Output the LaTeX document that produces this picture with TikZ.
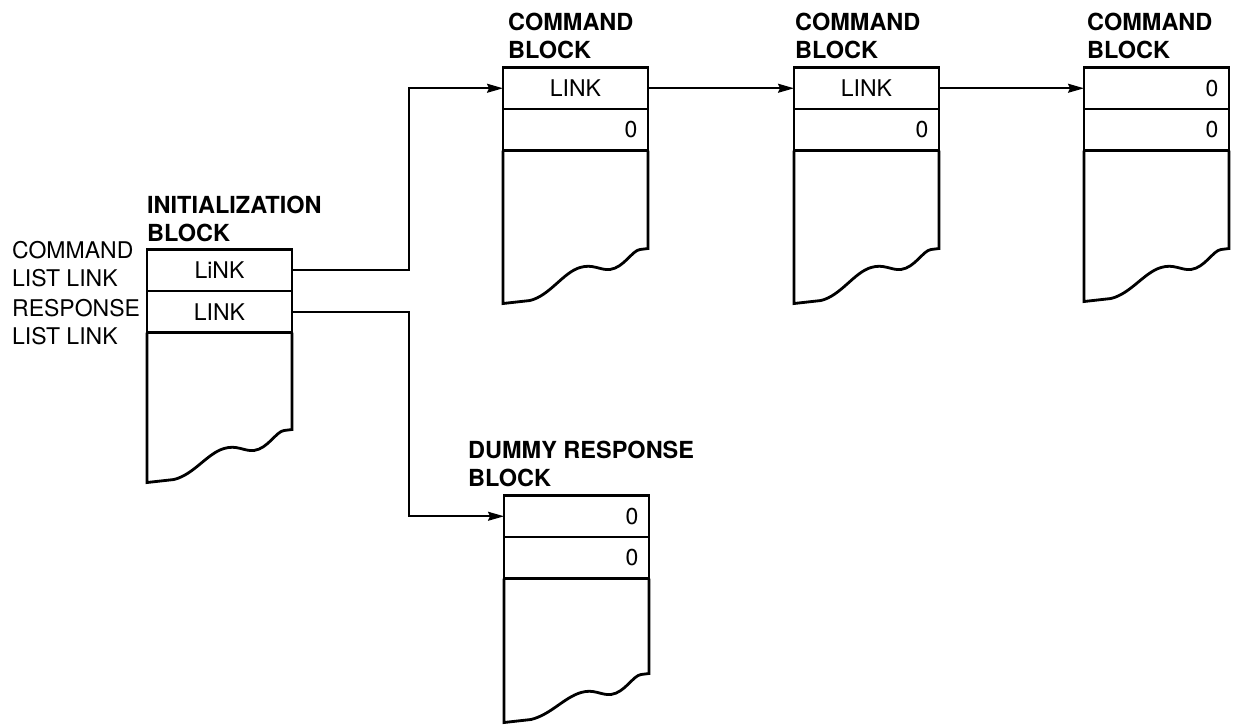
\documentclass[tikz,border=0pt]{standalone}
\usepackage{fontspec}
\setmainfont{TeX Gyre Heros}
\usetikzlibrary{arrows.meta}
\tikzset{
  blk/.style={line width=2.8pt, line join=miter},
  cell/.style={draw, line width=2.8pt, anchor=north west, minimum height=41.5pt,
    text width=124pt, inner xsep=10.5pt, inner ysep=0pt, outer sep=0pt, align=center,
    font=\fontsize{23}{27.5}\selectfont},
  zcell/.style={cell, align=right},
  ttl/.style={anchor=north west, inner sep=0pt, align=left,
    font=\bfseries\fontsize{23.5}{27.5}\selectfont},
  lbl/.style={anchor=north west, inner sep=0pt, align=left,
    font=\fontsize{23}{28}\selectfont},
  conn/.style={line width=1.6pt, -{Stealth[length=16pt, width=9pt, inset=2pt]}}
}
\newcommand\blockbody[3]{%
  \begin{scope}[shift={(#1.south east)}]
    \draw[blk] (#1.south east) -- (0,#2) -- (-8,{#2+1})
      .. controls (-16,{#2+2}) and (-24,{#2+19}) .. (-38,{#2+21})
      .. controls (-48,{#2+22}) and (-55,{#2+15}) .. (-68,{#2+19})
      .. controls (-85,{#2+24}) and (-98,{#2+#3-8}) .. (-118,{#2+#3-3})
      -- (-145,{#2+#3}) -- (#1.south west);
  \end{scope}}
\begin{document}
\begin{tikzpicture}[x=1pt, y=-1pt]
\useasboundingbox (0,0) rectangle (1236,724);

% initialization block
\node[ttl] (tinit) at (147,196) {INITIALIZATION\\BLOCK};
\node[cell] (i1) at (147,249.5) {LiNK};
\node[cell] (i2) at (i1.south west) {LINK};
\blockbody{i2}{97}{53}
\node[lbl] (lcmd) at (12,241) {COMMAND\\LIST LINK};
\node[lbl] (lrsp) at (12,299) {RESPONSE\\LIST LINK};

% command block 1
\node[ttl] (tc1) at (508,13) {COMMAND\\BLOCK};
\node[cell] (c1a) at (503,67.5) {LINK};
\node[zcell] (c1b) at (c1a.south west) {0};
\blockbody{c1b}{98}{55}

% command block 2
\node[ttl] (tc2) at (795,13) {COMMAND\\BLOCK};
\node[cell] (c2a) at (794,67.5) {LINK};
\node[zcell] (c2b) at (c2a.south west) {0};
\blockbody{c2b}{98}{55}

% command block 3
\node[ttl] (tc3) at (1087,13) {COMMAND\\BLOCK};
\node[zcell] (c3a) at (1084,67.5) {0};
\node[zcell] (c3b) at (c3a.south west) {0};
\blockbody{c3b}{98}{53}

% dummy response block
\node[ttl] (td) at (468,441) {DUMMY RESPONSE\\BLOCK};
\node[zcell] (d1) at (504,495.5) {0};
\node[zcell] (d2) at (d1.south west) {0};
\blockbody{d2}{95}{49}

% connectors
\draw[conn] (i1.east) -| ([xshift=-94pt]c1a.west) -- (c1a.west);
\draw[conn] (i2.east) -| ([xshift=-95pt]d1.west) -- (d1.west);
\draw[conn] (c1a.east) -- (c2a.west);
\draw[conn] (c2a.east) -- (c3a.west);
\end{tikzpicture}
\end{document}
